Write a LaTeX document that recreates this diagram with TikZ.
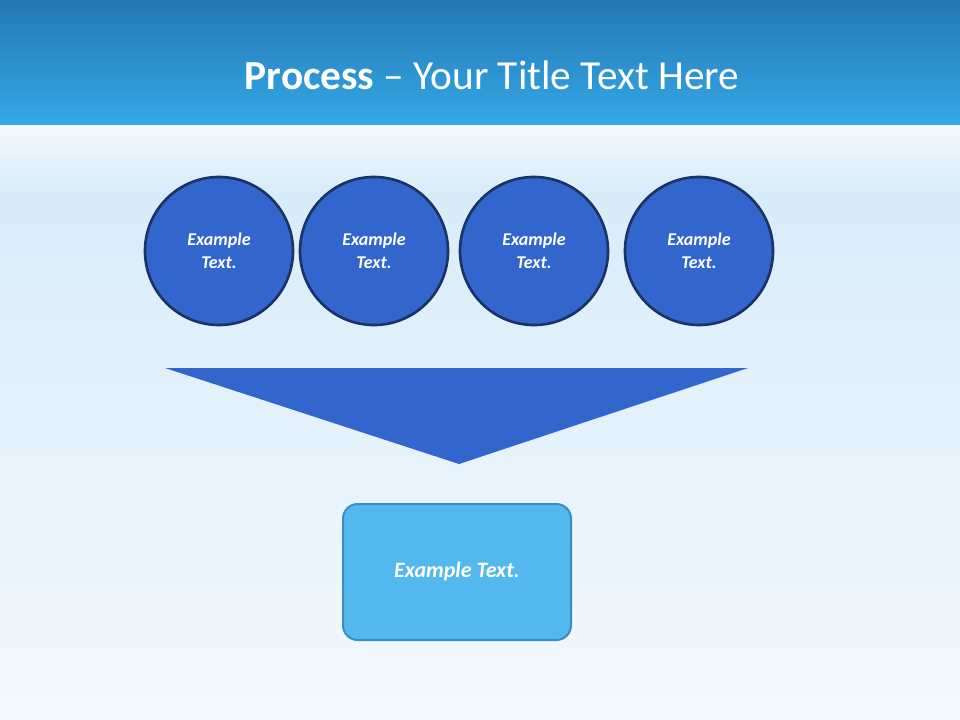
\documentclass[tikz,border=0pt]{standalone}
\usepackage{fontspec}
\setmainfont{Carlito}
\definecolor{topA}{HTML}{2478B4}
\definecolor{topB}{HTML}{34A8E6}
\definecolor{bgA}{HTML}{D6EAF8}
\definecolor{bgB}{HTML}{F4F9FD}
\definecolor{circ}{HTML}{3366CC}
\definecolor{circB}{HTML}{1A3468}
\definecolor{boxF}{HTML}{52B8EE}
\definecolor{boxB}{HTML}{3B8DC4}
\tikzset{
 circnode/.style={circle,fill=circ,draw=circB,line width=2pt,minimum size=111pt,inner sep=0pt,text=white,font=\fontsize{13.5}{17}\selectfont\bfseries\itshape,align=center},
 boxnode/.style={rounded corners=11pt,fill=boxF,draw=boxB,line width=1.5pt,minimum width=171pt,minimum height=102pt,text=white,font=\fontsize{16.5}{20}\selectfont\bfseries\itshape},
}
\begin{document}
\begin{tikzpicture}[x=0.75pt,y=-0.75pt]
\useasboundingbox (0,0) rectangle (960,720);
\shade[top color=bgA,bottom color=bgB] (0,125) rectangle (960,720);
\shade[top color=white!70!bgA,bottom color=bgA] (0,125) rectangle (960,200);
\shade[top color=topA,bottom color=topB] (0,0) rectangle (960,125);
\node[text=white,font=\fontsize{31}{36}\selectfont] (title) at (492,75) {\textbf{Process} – Your Title Text Here};
\node[circnode] (c1) at (219,251) {Example\\Text.};
\node[circnode] (c2) at (374,251) {Example\\Text.};
\node[circnode] (c3) at (534,251) {Example\\Text.};
\node[circnode] (c4) at (699,251) {Example\\Text.};
\fill[circ] (165,368) -- (748,368) -- (459,464) -- cycle;
\node[boxnode] (box) at (457,572) {Example Text.};
\end{tikzpicture}
\end{document}
